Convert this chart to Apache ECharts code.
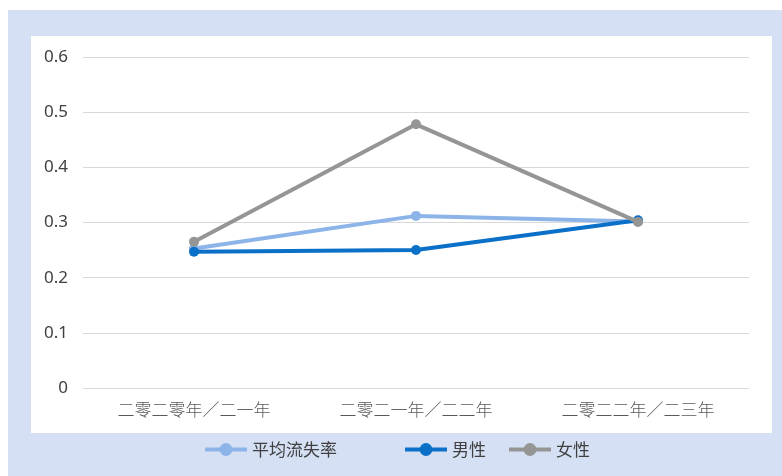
<!DOCTYPE html>
<html>
<head>
<meta charset="utf-8">
<script src="https://cdn.jsdelivr.net/npm/echarts@6/dist/echarts.min.js"></script>
<style>
html,body{margin:0;padding:0;background:#fff;}
#c{width:782px;height:476px;}
</style>
</head>
<body>
<div id="c"></div>
<script>
const categories = ['二零二零年／二一年', '二零二一年／二二年', '二零二二年／二三年'];
const avgRate = [0.253, 0.312, 0.302];
const male = [0.247, 0.250, 0.304];
const female = [0.265, 0.478, 0.301];
const yTicks = { min: 0, max: 0.6, interval: 0.1 };

const font = "'Noto Sans', 'Noto Sans CJK SC', sans-serif";
const chart = echarts.init(document.getElementById('c'), null, { renderer: 'canvas' });

const colors = { avg: '#8db4e8', male: '#0a70c8', female: '#959595' };

function lineSeries(name, data, color, z) {
  return {
    name, type: 'line', data, z,
    symbol: 'circle', symbolSize: 10,
    lineStyle: { width: 4, color },
    itemStyle: { color },
    emphasis: { disabled: true },
    animation: false
  };
}

function legend(name, left, color) {
  return {
    data: [name], left, top: 441, padding: 0,
    itemWidth: 42, itemHeight: 16, itemGap: 0,
    lineStyle: { width: 4, color },
    itemStyle: { color },
    textStyle: { fontSize: 17, color: '#404040', fontFamily: "'Noto Sans CJK SC', sans-serif" }
  };
}

chart.setOption({
  backgroundColor: '#ffffff',
  textStyle: { fontFamily: font },
  graphic: [
    { type: 'rect', shape: { x: 8, y: 10, width: 774, height: 466 }, style: { fill: '#d5e0f5' }, z: -10, silent: true },
    { type: 'rect', shape: { x: 31, y: 36, width: 741, height: 397 }, style: { fill: '#ffffff' }, z: -9, silent: true }
  ],
  grid: { left: 83, right: 33, top: 57, bottom: 88 },
  legend: [legend('平均流失率', 203, colors.avg), legend('男性', 403, colors.male), legend('女性', 507, colors.female)],
  xAxis: {
    type: 'category', data: categories, boundaryGap: true,
    axisLine: { show: false }, axisTick: { show: false },
    axisLabel: { fontSize: 17, color: '#595959', margin: 13, fontFamily: "'Noto Sans CJK SC', sans-serif", fontWeight: 300 }
  },
  yAxis: {
    type: 'value', min: yTicks.min, max: yTicks.max, interval: yTicks.interval,
    axisLine: { show: false }, axisTick: { show: false },
    axisLabel: { fontSize: 17, color: '#404040', margin: 15, fontFamily: "'Noto Sans', sans-serif" },
    splitLine: { lineStyle: { color: '#d9d9d9', width: 1 } }
  },
  series: [
    lineSeries('平均流失率', avgRate, colors.avg, 3),
    lineSeries('男性', male, colors.male, 4),
    lineSeries('女性', female, colors.female, 5)
  ]
});
</script>
</body>
</html>
